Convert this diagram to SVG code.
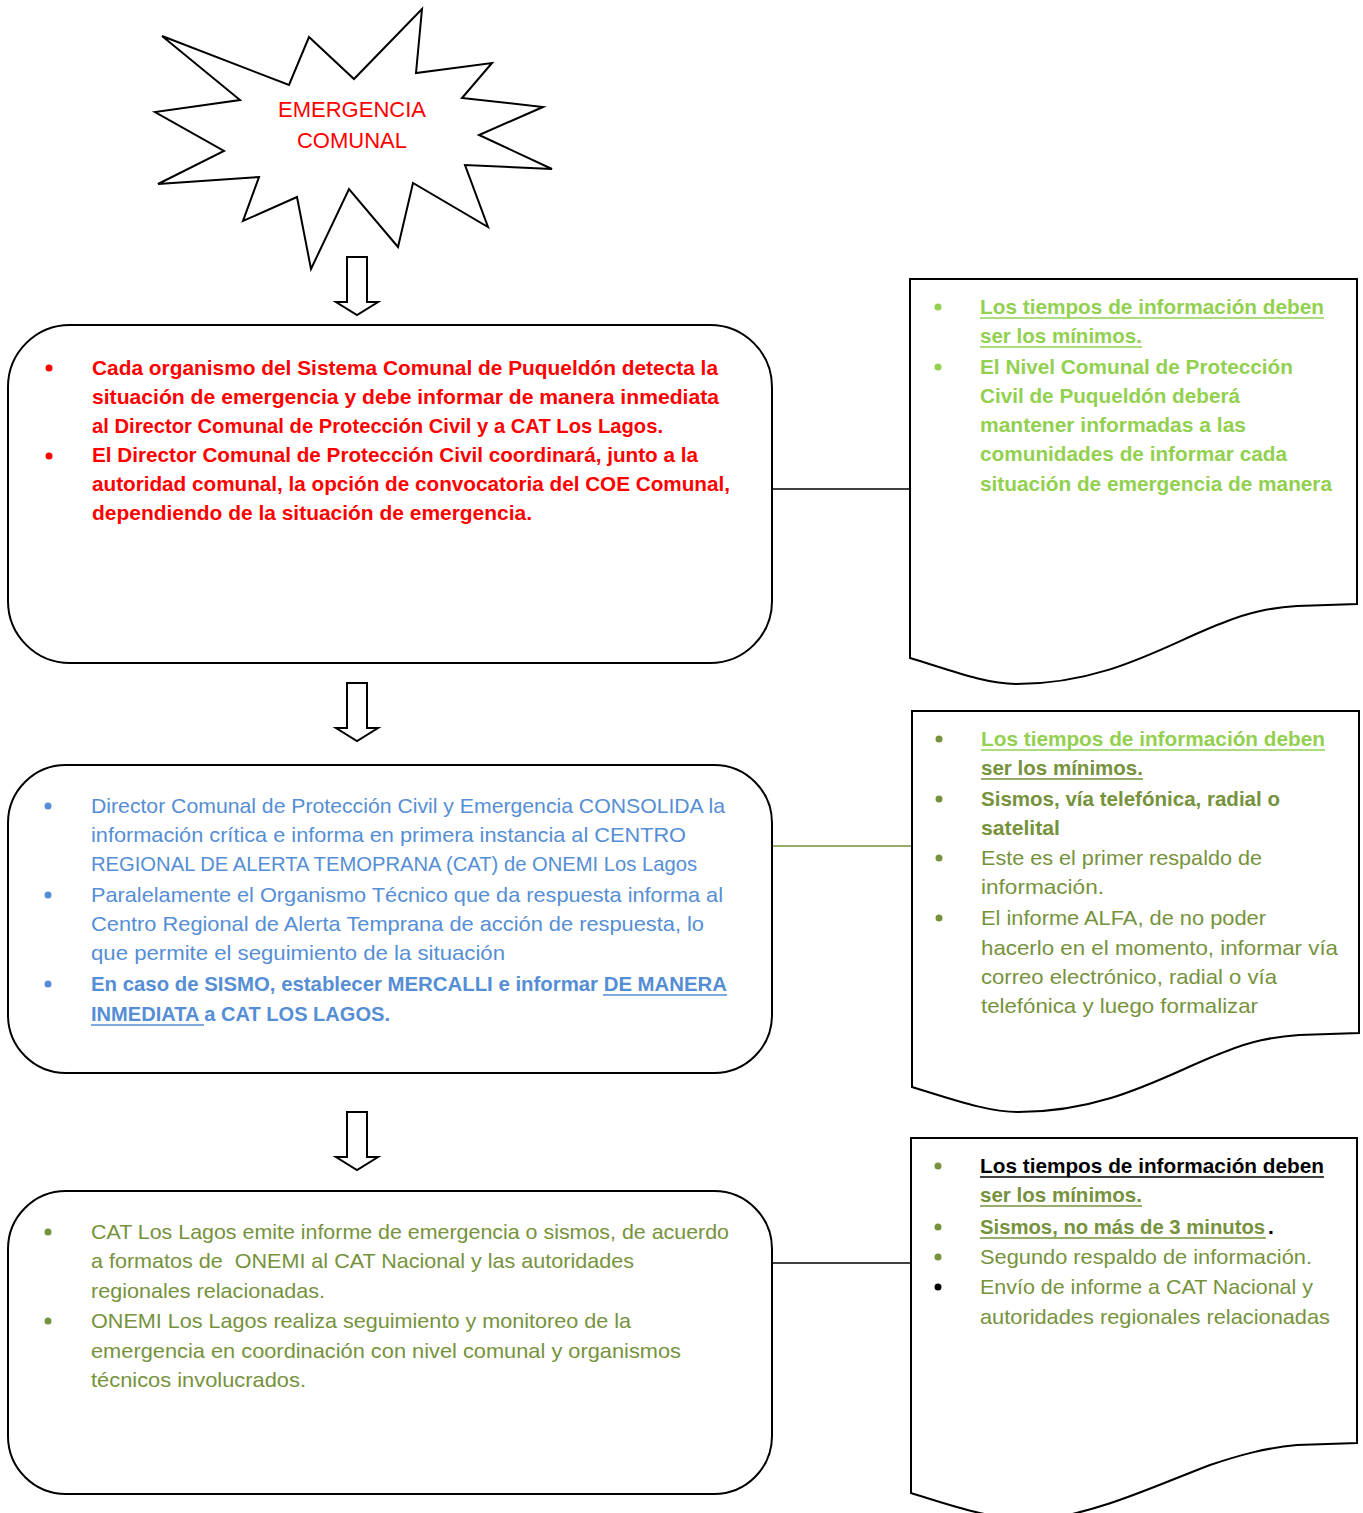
<svg xmlns="http://www.w3.org/2000/svg" width="1363" height="1513" viewBox="0 0 1363 1513">
<style>
text{font-family:"Liberation Sans",Arial,sans-serif;font-size:21px}
.shape{fill:#fff;stroke:#000;stroke-width:2}
.red{fill:#FF0000;font-weight:bold}
.blue{fill:#558ED5}
.olive{fill:#76923C}
.lg{fill:#92D050}
.bk{fill:#000}
.b{font-weight:bold}
.ul{stroke-width:1.6}
</style>
<rect width="1363" height="1513" fill="#fff"/>

<g id="connectors">
<line x1="773" y1="489" x2="910" y2="489" stroke="#000" stroke-width="1.5"/>
<line x1="773" y1="846" x2="917" y2="846" stroke="#76923C" stroke-width="1.5"/>
<line x1="773" y1="1263" x2="911" y2="1263" stroke="#000" stroke-width="1.5"/>
<path class="shape" d="M347,257 L367,257 L367,302 L378,302 L357,315 L336,302 L347,302 Z"/>
<path class="shape" d="M347,683 L367,683 L367,728 L378,728 L357,741 L336,728 L347,728 Z"/>
<path class="shape" d="M347,1112 L367,1112 L367,1157 L378,1157 L357,1170 L336,1157 L347,1157 Z"/>
</g>

<g id="emergencia">
<path class="shape" d="M162,36 L289,85 L309,37 L354,79 L422,9 L416,73 L492,63 L462,98 L543,107 L479,135 L552,169 L465,165 L488,227 L413,183 L398,247 L349,189 L311,269 L297,197 L243,221 L259,177 L158,184 L224,151 L155,112 L240,100 Z"/>
<text x="352" y="117" text-anchor="middle" style="font-size:22px;fill:#FF0000">EMERGENCIA</text>
<text x="352" y="148" text-anchor="middle" style="font-size:22px;fill:#FF0000">COMUNAL</text>
</g>

<g id="box1">
<rect class="shape" x="8" y="325" width="764" height="338" rx="62" ry="62"/>
<circle cx="49" cy="368" r="3.5" fill="#FF0000"/>
<circle cx="49" cy="456" r="3.5" fill="#FF0000"/>
<text class="red" x="92" y="375" textLength="626" lengthAdjust="spacingAndGlyphs">Cada organismo del Sistema Comunal de Puqueldón detecta la</text>
<text class="red" x="92" y="404" textLength="627" lengthAdjust="spacingAndGlyphs">situación de emergencia y debe informar de manera inmediata</text>
<text class="red" x="92" y="433" textLength="571" lengthAdjust="spacingAndGlyphs">al Director Comunal de Protección Civil y a CAT Los Lagos.</text>
<text class="red" x="92" y="462" textLength="606" lengthAdjust="spacingAndGlyphs">El Director Comunal de Protección Civil coordinará, junto a la</text>
<text class="red" x="92" y="491" textLength="638" lengthAdjust="spacingAndGlyphs">autoridad comunal, la opción de convocatoria del COE Comunal,</text>
<text class="red" x="92" y="520" textLength="440" lengthAdjust="spacingAndGlyphs">dependiendo de la situación de emergencia.</text>
</g>

<g id="box2">
<rect class="shape" x="8" y="765" width="764" height="308" rx="58" ry="58"/>
<circle cx="48" cy="806" r="3.5" fill="#558ED5"/>
<circle cx="48" cy="895" r="3.5" fill="#558ED5"/>
<circle cx="48" cy="984" r="3.5" fill="#558ED5"/>
<text class="blue" x="91" y="813" textLength="634" lengthAdjust="spacingAndGlyphs">Director Comunal de Protección Civil y Emergencia CONSOLIDA la</text>
<text class="blue" x="91" y="842" textLength="595" lengthAdjust="spacingAndGlyphs">información crítica e informa en primera instancia al CENTRO</text>
<text class="blue" x="91" y="871" textLength="606" lengthAdjust="spacingAndGlyphs">REGIONAL DE ALERTA TEMOPRANA (CAT) de ONEMI Los Lagos</text>
<text class="blue" x="91" y="902" textLength="632" lengthAdjust="spacingAndGlyphs">Paralelamente el Organismo Técnico que da respuesta informa al</text>
<text class="blue" x="91" y="931" textLength="613" lengthAdjust="spacingAndGlyphs">Centro Regional de Alerta Temprana de acción de respuesta, lo</text>
<text class="blue" x="91" y="960" textLength="414" lengthAdjust="spacingAndGlyphs">que permite el seguimiento de la situación</text>
<text class="blue b" x="91" y="991" textLength="636" lengthAdjust="spacingAndGlyphs">En caso de SISMO, establecer MERCALLI e informar DE MANERA</text>
<text class="blue b" x="91" y="1021" textLength="299" lengthAdjust="spacingAndGlyphs">INMEDIATA a CAT LOS LAGOS.</text>
<line class="ul" x1="603" y1="995" x2="727" y2="995" stroke="#558ED5"/>
<line class="ul" x1="91" y1="1025" x2="204" y2="1025" stroke="#558ED5"/>
</g>

<g id="box3">
<rect class="shape" x="8" y="1191" width="764" height="303" rx="58" ry="58"/>
<circle cx="48" cy="1232" r="3.5" fill="#76923C"/>
<circle cx="48" cy="1321" r="3.5" fill="#76923C"/>
<text class="olive" x="91" y="1239" textLength="638" lengthAdjust="spacingAndGlyphs">CAT Los Lagos emite informe de emergencia o sismos, de acuerdo</text>
<text class="olive" x="91" y="1268" textLength="543" lengthAdjust="spacingAndGlyphs" xml:space="preserve">a formatos de  ONEMI al CAT Nacional y las autoridades</text>
<text class="olive" x="91" y="1298" textLength="234" lengthAdjust="spacingAndGlyphs">regionales relacionadas.</text>
<text class="olive" x="91" y="1328" textLength="540" lengthAdjust="spacingAndGlyphs">ONEMI Los Lagos realiza seguimiento y monitoreo de la</text>
<text class="olive" x="91" y="1358" textLength="590" lengthAdjust="spacingAndGlyphs">emergencia en coordinación con nivel comunal y organismos</text>
<text class="olive" x="91" y="1387" textLength="215" lengthAdjust="spacingAndGlyphs">técnicos involucrados.</text>
</g>

<g id="note1">
<path class="shape" d="M910,279 L1357,279 L1357,604 L1297,606 C1270,608 1250,612 1225,622 C1170,642 1110,684 1016,684 C985,684 950,670 910,658 Z"/>
<circle cx="938" cy="307" r="3.5" fill="#92D050"/>
<circle cx="938" cy="367" r="3.5" fill="#92D050"/>
<text class="lg b" x="980" y="314" textLength="344" lengthAdjust="spacingAndGlyphs">Los tiempos de información deben</text>
<text class="lg b" x="980" y="343" textLength="162" lengthAdjust="spacingAndGlyphs">ser los mínimos.</text>
<line class="ul" x1="980" y1="318" x2="1324" y2="318" stroke="#92D050"/>
<line class="ul" x1="980" y1="347" x2="1142" y2="347" stroke="#92D050"/>
<text class="lg b" x="980" y="374" textLength="313" lengthAdjust="spacingAndGlyphs">El Nivel Comunal de Protección</text>
<text class="lg b" x="980" y="403" textLength="260" lengthAdjust="spacingAndGlyphs">Civil de Puqueldón deberá</text>
<text class="lg b" x="980" y="432" textLength="266" lengthAdjust="spacingAndGlyphs">mantener informadas a las</text>
<text class="lg b" x="980" y="461" textLength="307" lengthAdjust="spacingAndGlyphs">comunidades de informar cada</text>
<text class="lg b" x="980" y="491" textLength="352" lengthAdjust="spacingAndGlyphs">situación de emergencia de manera</text>
</g>

<g id="note2">
<path class="shape" d="M912,711 L1359,711 L1359,1033 L1299,1035 C1272,1037 1252,1041 1227,1051 C1172,1071 1112,1112 1018,1112 C987,1112 952,1099 912,1087 Z"/>
<circle cx="939" cy="739" r="3.5" fill="#76923C"/>
<circle cx="939" cy="799" r="3.5" fill="#76923C"/>
<circle cx="939" cy="858" r="3.5" fill="#76923C"/>
<circle cx="939" cy="918" r="3.5" fill="#76923C"/>
<text class="lg b" x="981" y="746" textLength="344" lengthAdjust="spacingAndGlyphs">Los tiempos de información deben</text>
<line class="ul" x1="981" y1="750" x2="1325" y2="750" stroke="#92D050"/>
<text class="olive b" x="981" y="775" textLength="162" lengthAdjust="spacingAndGlyphs">ser los mínimos.</text>
<line class="ul" x1="981" y1="779" x2="1143" y2="779" stroke="#76923C"/>
<text class="olive b" x="981" y="806" textLength="299" lengthAdjust="spacingAndGlyphs">Sismos, vía telefónica, radial o</text>
<text class="olive b" x="981" y="835" textLength="79" lengthAdjust="spacingAndGlyphs">satelital</text>
<text class="olive" x="981" y="865" textLength="281" lengthAdjust="spacingAndGlyphs">Este es el primer respaldo de</text>
<text class="olive" x="981" y="894" textLength="123" lengthAdjust="spacingAndGlyphs">información.</text>
<text class="olive" x="981" y="925" textLength="285" lengthAdjust="spacingAndGlyphs">El informe ALFA, de no poder</text>
<text class="olive" x="981" y="955" textLength="357" lengthAdjust="spacingAndGlyphs">hacerlo en el momento, informar vía</text>
<text class="olive" x="981" y="984" textLength="296" lengthAdjust="spacingAndGlyphs">correo electrónico, radial o vía</text>
<text class="olive" x="981" y="1013" textLength="277" lengthAdjust="spacingAndGlyphs">telefónica y luego formalizar</text>
</g>

<g id="note3">
<path class="shape" d="M911,1138 L1357,1138 L1357,1443 L1297,1445 C1265,1448 1240,1455 1210,1465 C1150,1488 1100,1512 1040,1520 C990,1520 950,1505 911,1493 Z"/>
<circle cx="938" cy="1166" r="3.5" fill="#76923C"/>
<circle cx="938" cy="1227" r="3.5" fill="#76923C"/>
<circle cx="938" cy="1257" r="3.5" fill="#76923C"/>
<circle cx="938" cy="1287" r="3.5" fill="#000"/>
<text class="bk b" x="980" y="1173" textLength="344" lengthAdjust="spacingAndGlyphs">Los tiempos de información deben</text>
<line class="ul" x1="980" y1="1177" x2="1324" y2="1177" stroke="#000"/>
<text class="olive b" x="980" y="1202" textLength="162" lengthAdjust="spacingAndGlyphs">ser los mínimos.</text>
<line class="ul" x1="980" y1="1206" x2="1142" y2="1206" stroke="#76923C"/>
<text class="olive b" x="980" y="1234" style="font-size:20.3px">Sismos, no más de 3 minutos</text>
<text class="bk b" x="1268" y="1234">.</text>
<line class="ul" x1="980" y1="1238" x2="1266" y2="1238" stroke="#76923C"/>
<text class="olive" x="980" y="1264" textLength="332" lengthAdjust="spacingAndGlyphs">Segundo respaldo de información.</text>
<text class="olive" x="980" y="1294" textLength="333" lengthAdjust="spacingAndGlyphs">Envío de informe a CAT Nacional y</text>
<text class="olive" x="980" y="1324" textLength="350" lengthAdjust="spacingAndGlyphs">autoridades regionales relacionadas</text>
</g>
</svg>
